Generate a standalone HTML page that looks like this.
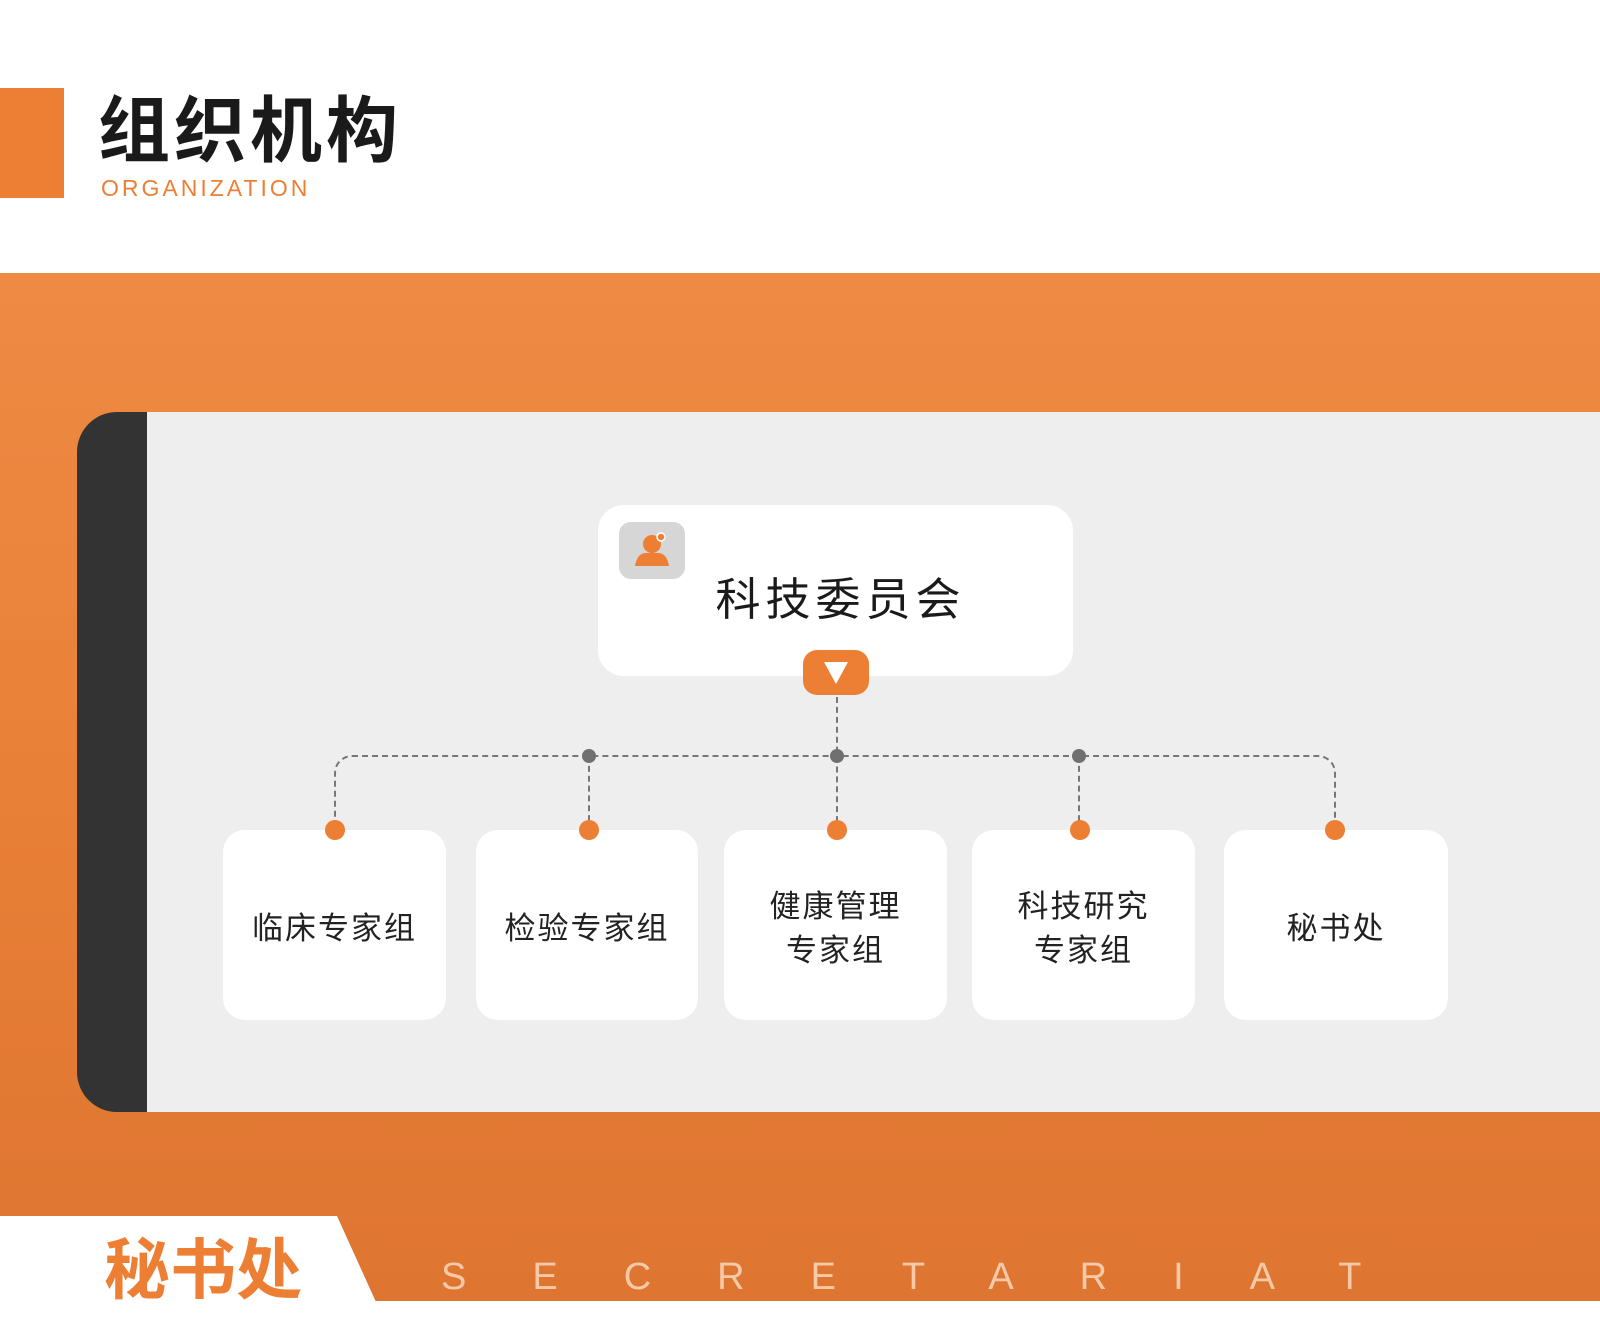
<!DOCTYPE html>
<html><head><meta charset="utf-8"><style>
*{margin:0;padding:0;box-sizing:border-box}
body{width:1600px;height:1334px;position:relative;background:#fff;overflow:hidden;font-family:"Liberation Sans","Noto Sans CJK SC",sans-serif}
.a{position:absolute}
.box{position:absolute;background:#fff;border-radius:22px;top:830px;height:190px;display:flex;align-items:center;justify-content:center;text-align:center;font-size:31px;color:#222;line-height:44px;letter-spacing:2px;padding-top:8px}
.dot{position:absolute;width:20px;height:20px;border-radius:50%;background:#ec7f34;top:820px}
.gd{position:absolute;width:14px;height:14px;border-radius:50%;background:#707070;top:749px}
.vl{position:absolute;border-left:2px dashed #777;width:0}
</style></head><body>
<div class="a" style="left:0;top:88px;width:64px;height:110px;background:#ec7f34"></div>
<div class="a" style="left:98px;top:72px;font-size:72px;font-weight:bold;color:#1a1a1a;letter-spacing:4px">组织机构</div>
<div class="a" style="left:101px;top:175px;font-size:23px;color:#ec7f34;letter-spacing:3px">ORGANIZATION</div>
<div class="a" style="left:0;top:273px;width:1600px;height:1028px;background:linear-gradient(180deg,#ee8a44 0%,#e98037 50%,#de7531 100%)"></div>
<div class="a" style="left:77px;top:412px;width:1523px;height:700px;background:#333;border-radius:40px 0 0 40px"></div>
<div class="a" style="left:147px;top:412px;width:1453px;height:700px;background:#eeeeee"></div>
<div class="a" style="left:598px;top:505px;width:475px;height:171px;background:#fff;border-radius:26px"></div>
<div class="a" style="left:619px;top:522px;width:66px;height:57px;background:#d6d6d6;border-radius:12px">
<svg width="66" height="57" viewBox="0 0 66 57"><circle cx="33" cy="22" r="9" fill="#ec7f34"/><path d="M16 44 Q18 32 26 31 L40 31 Q48 32 50 44 Z" fill="#ec7f34"/><circle cx="42" cy="15" r="4" fill="#ec7f34" stroke="#fff" stroke-width="1.5"/></svg></div>
<div class="a" style="left:598px;top:563px;width:475px;text-align:center;font-size:45px;color:#1a1a1a;letter-spacing:5px;padding-left:10px">科技委员会</div>
<div class="a" style="left:803px;top:650px;width:66px;height:45px;background:#ec7f34;border-radius:14px"><svg width="66" height="45"><path d="M21 12 L45 12 L33 34 Z" fill="#fff"/></svg></div>
<div class="vl" style="left:836px;top:697px;height:135px"></div>
<div class="a" style="left:334px;top:755px;width:1002px;height:80px;border:2px dashed #777;border-bottom:none;border-radius:18px 18px 0 0"></div>
<div class="vl" style="left:588px;top:756px;height:75px"></div>
<div class="vl" style="left:1078px;top:756px;height:75px"></div>
<div class="gd" style="left:582px"></div><div class="gd" style="left:830px"></div><div class="gd" style="left:1072px"></div>
<div class="box" style="left:223px;width:223px">临床专家组</div>
<div class="box" style="left:476px;width:222px">检验专家组</div>
<div class="box" style="left:724px;width:223px">健康管理<br>专家组</div>
<div class="box" style="left:972px;width:223px">科技研究<br>专家组</div>
<div class="box" style="left:1224px;width:224px">秘书处</div>
<div class="dot" style="left:325px"></div><div class="dot" style="left:579px"></div><div class="dot" style="left:827px"></div><div class="dot" style="left:1070px"></div><div class="dot" style="left:1325px"></div>
<div class="a" style="left:0;top:1301px;width:1600px;height:33px;background:#fff"></div>
<svg class="a" style="left:0;top:1216px" width="400" height="86"><path d="M0 0 L337 0 L376 86 L0 86 Z" fill="#fff"/></svg>
<div class="a" style="left:104px;top:1230px;font-size:66px;font-weight:bold;color:#ec7f34;line-height:80px">秘书处</div>
<div class="a" style="left:441px;top:1252px;font-size:38px;color:#f6c9a8;line-height:50px;letter-spacing:66px">SECRETARIAT</div>
</body></html>
